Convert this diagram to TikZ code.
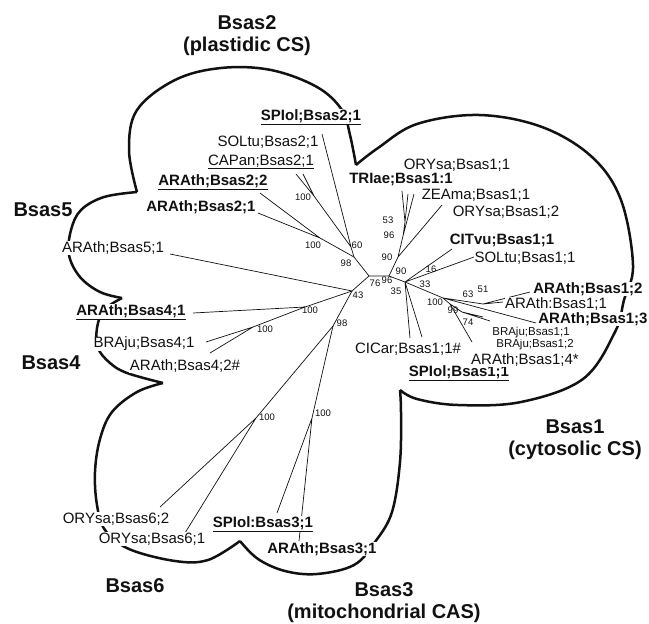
\documentclass[tikz,border=0pt]{standalone}
\usepackage{fontspec}
\setmainfont{Liberation Sans}
\usepackage{xcolor}
\definecolor{inkblack}{HTML}{111111}
\tikzset{
  leaf/.style={fill=white, text=inkblack, inner sep=0.5pt, font=\fontsize{15}{17}\selectfont},
  leafb/.style={leaf, font=\fontsize{15}{17}\selectfont\bfseries},
  leafs/.style={leaf, font=\fontsize{11.5}{13}\selectfont},
  boot/.style={inner sep=0pt, text=inkblack, font=\fontsize{9.5}{10}\selectfont},
  group/.style={align=center, text=inkblack, font=\fontsize{20}{22}\selectfont\bfseries},
  branch/.style={draw=inkblack, line width=0.7pt},
  lobe/.style={draw=inkblack, line width=2.5pt, line join=round},
}

\begin{document}
\begin{tikzpicture}[x=1pt, y=-1pt]
  \useasboundingbox (0,0) rectangle (649,624);

  \coordinate (nA) at (369,276);
  \coordinate (nB) at (389,276);
  \coordinate (nC) at (405,282);
  \coordinate (nD) at (352,291);
  \coordinate (nE) at (354,257);
  \coordinate (nH) at (351,247);
  \coordinate (nF) at (314,196);
  \coordinate (nG) at (320,238);
  \coordinate (nI) at (305,307);
  \coordinate (nJ) at (253,327);
  \coordinate (nK) at (333,326);
  \coordinate (nL) at (256,418);
  \coordinate (nM) at (312,418);
  \coordinate (nR) at (398,257);
  \coordinate (nQ) at (403,236);
  \coordinate (nP) at (405,222);
  \coordinate (nT) at (443,298);
  \coordinate (nU) at (483,304);
  \coordinate (nV) at (450,304);
  \coordinate (nW) at (462,312);

  \coordinate (eSPIolB2) at (322,134);
  \coordinate (eSOLtuB2) at (303,174);
  \coordinate (eCAPanB2) at (296,174);
  \coordinate (eARAthB22) at (260,193);
  \coordinate (eARAthB21) at (258,213);
  \coordinate (eARAthB5) at (170,254);
  \coordinate (eARAthB41) at (193,313);
  \coordinate (eBRAjuB4) at (206,342);
  \coordinate (eARAthB42) at (210,353);
  \coordinate (eORYsaB62) at (160,507);
  \coordinate (eORYsaB61) at (185,533);
  \coordinate (eSPIolB3) at (277,513);
  \coordinate (eARAthB3) at (299,541);
  \coordinate (eTRIaeB1) at (402,191);
  \coordinate (eORYsaB11) at (408,194);
  \coordinate (eZEAmaB1) at (414,194);
  \coordinate (eORYsaB12) at (442,205);
  \coordinate (eCITvuB1) at (452,249);
  \coordinate (eSOLtuB1) at (474,257);
  \coordinate (eCICarB1) at (410,338);
  \coordinate (eSPIolB1) at (422,337);
  \coordinate (eARAthB12) at (530,292);
  \coordinate (eARAthB11) at (503,302);
  \coordinate (eARAthB13) at (536,323);
  \coordinate (eARAthB14) at (472,342);
  \coordinate (eBRAjuB11) at (490,321);
  \coordinate (eBRAjuB12) at (483,317);

  \draw[lobe] plot[smooth, tension=0.6] coordinates {(137,192) (129,150) (137,110) (175,80) (221,68) (271,70) (317,87) (342,110) (350,135) (356,165)};
  \draw[lobe] plot[smooth, tension=0.6] coordinates {(356,165) (378,148) (417,124) (479,115) (542,127) (592,157) (621,200) (633,265) (624,300) (615,332) (583,379) (521,402) (458,405) (417,399) (400,390)};
  \draw[lobe] plot[smooth, tension=0.6] coordinates {(240,541) (258,559) (285,571) (317,574) (354,565) (375,542) (392,512) (400,462) (401,412) (400,390)};
  \draw[lobe] plot[smooth, tension=0.6] coordinates {(163,383) (137,392) (112,412) (100,439) (95,472) (97,505) (105,530) (129,549) (175,561) (208,560) (240,541)};
  \draw[lobe] plot[smooth, tension=0.6] coordinates {(122,298) (104,310) (97,328) (98,348) (110,363) (127,373) (163,383)};
  \draw[lobe] plot[smooth, tension=0.6] coordinates {(137,192) (104,197) (81,210) (71,230) (69,255) (80,277) (100,292) (122,298)};

  \draw[branch] (eSPIolB2) -- (nH) (eSOLtuB2) -- (nF) (eCAPanB2) -- (nF) (nF) -- (nH) (nH) -- (nE);
  \draw[branch] (eARAthB22) -- (nG) (eARAthB21) -- (nG) (nG) -- (nE) (nE) -- (nA);
  \draw[branch] (nA) -- (nB) (nA) -- (nD) (eARAthB5) -- (nD);
  \draw[branch] (eARAthB41) -- (nI) (eBRAjuB4) -- (nJ) (eARAthB42) -- (nJ) (nJ) -- (nI) (nI) -- (nD);
  \draw[branch] (nD) -- (nK) (nK) -- (nL) (nL) -- (eORYsaB62) (nL) -- (eORYsaB61);
  \draw[branch] (nK) -- (nM) (nM) -- (eSPIolB3) (nM) -- (eARAthB3);
  \draw[branch] (nB) -- (nR) (nR) -- (nQ) (nQ) -- (nP) (nP) -- (eTRIaeB1) (nP) -- (eORYsaB11) (nQ) -- (eZEAmaB1) (nR) -- (eORYsaB12);
  \draw[branch] (nB) -- (nC) (nC) -- (eCITvuB1) (nC) -- (eSOLtuB1) (nC) -- (eCICarB1) (nC) -- (eSPIolB1);
  \draw[branch] (nC) -- (nT) (nT) -- (nU) (nU) -- (eARAthB12) (nU) -- (eARAthB11) (nT) -- (eARAthB13);
  \draw[branch] (nT) -- (nV) (nV) -- (eARAthB14) (nV) -- (nW) (nW) -- (eBRAjuB11) (nW) -- (eBRAjuB12);

  \node[leafb] (SPIolB2) at (311,117) {\underline{SPIol;Bsas2;1}};
  \node[leaf] (SOLtuB2) at (268,142) {SOLtu;Bsas2;1};
  \node[leaf] (CAPanB2) at (261,162) {\underline{CAPan;Bsas2;1}};
  \node[leafb] (ARAthB22) at (213,182) {\underline{ARAth;Bsas2;2}};
  \node[leafb] (ARAthB21) at (201,207) {ARAth;Bsas2;1};
  \node[leaf] (ARAthB5) at (113,248) {ARAth;Bsas5;1};
  \node[leafb] (ARAthB41) at (131,312) {\underline{ARAth;Bsas4;1}};
  \node[leaf] (BRAjuB4) at (144,344) {BRAju;Bsas4;1};
  \node[leaf] (ARAthB42) at (185,366) {ARAth;Bsas4;2\#};
  \node[leaf] (ORYsaB62) at (116,519) {ORYsa;Bsas6;2};
  \node[leaf] (ORYsaB61) at (152,539) {ORYsa;Bsas6;1};
  \node[leafb] (SPIolB3) at (263,524) {\underline{SPIol:Bsas3;1}};
  \node[leafb] (ARAthB3) at (322,549) {ARAth;Bsas3;1};
  \node[leaf] (CICarB1) at (408,349) {CICar;Bsas1;1\#};
  \node[leafb] (SPIolB1) at (459,373) {\underline{SPIol;Bsas1;1}};
  \node[leaf] (ARAthB14) at (525,360) {ARAth;Bsas1;4*};
  \node[leafs] (BRAjuB12) at (535,345) {BRAju;Bsas1;2};
  \node[leafs] (BRAjuB11) at (531,333) {BRAju;Bsas1;1};
  \node[leafb] (ARAthB13) at (593,319) {ARAth;Bsas1;3};
  \node[leaf] (ARAthB11) at (556,304) {ARAth:Bsas1;1};
  \node[leafb] (ARAthB12) at (588,289) {ARAth;Bsas1;2};
  \node[leaf] (SOLtuB1) at (525,258) {SOLtu;Bsas1;1};
  \node[leafb] (CITvuB1) at (502,240) {CITvu;Bsas1;1};
  \node[leaf] (ORYsaB12) at (506,212) {ORYsa;Bsas1;2};
  \node[leaf] (ZEAmaB1) at (476,195) {ZEAma;Bsas1;1};
  \node[leafb] (TRIaeB1) at (401,179) {TRIae;Bsas1:1};
  \node[leaf] (ORYsaB11) at (457,165) {ORYsa;Bsas1;1};

  \node[boot] (sF) at (303,197) {100};
  \node[boot] (sG) at (313,245) {100};
  \node[boot] (sH) at (357,245) {60};
  \node[boot] (sE) at (346,263) {98};
  \node[boot] (sA) at (375,283) {76};
  \node[boot] (sB) at (387,280) {96};
  \node[boot] (sD) at (358,295) {43};
  \node[boot] (sP) at (388,220) {53};
  \node[boot] (sQ) at (389,235) {96};
  \node[boot] (sR) at (387,257) {90};
  \node[boot] (sN) at (401,271) {90};
  \node[boot] (sS) at (431,269) {16};
  \node[boot] (sC) at (425,284) {33};
  \node[boot] (sC2) at (396,291) {35};
  \node[boot] (sT) at (435,302) {100};
  \node[boot] (sU) at (468,294) {63};
  \node[boot] (sU2) at (483,289) {51};
  \node[boot] (sV) at (453,310) {99};
  \node[boot] (sW) at (468,322) {74};
  \node[boot] (sI) at (310,310) {100};
  \node[boot] (sJ) at (265,329) {100};
  \node[boot] (sK) at (342,323) {98};
  \node[boot] (sL) at (267,417) {100};
  \node[boot] (sM) at (323,413) {100};

  \node[group] (Bsas2) at (247,36) {Bsas2\\(plastidic CS)};
  \node[group] (Bsas5) at (43,210) {Bsas5};
  \node[group] (Bsas4) at (51,363) {Bsas4};
  \node[group] (Bsas6) at (135,586) {Bsas6};
  \node[group] (Bsas3) at (384,603) {Bsas3\\(mitochondrial CAS)};
  \node[group] (Bsas1) at (575,440) {Bsas1\\(cytosolic CS)};
\end{tikzpicture}
\end{document}
